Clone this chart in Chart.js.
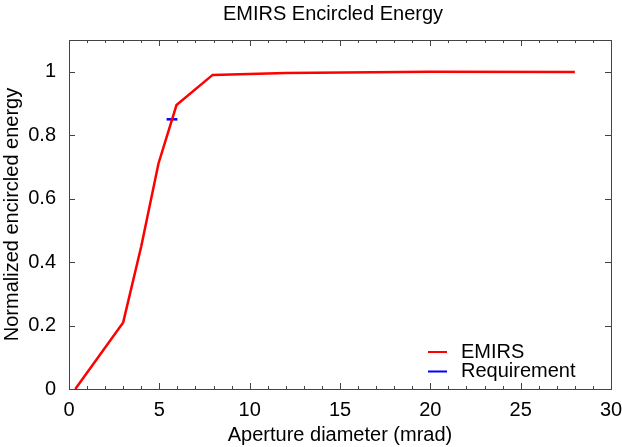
<!DOCTYPE html>
<html>
<head>
<meta charset="utf-8">
<script src="https://cdn.jsdelivr.net/npm/chart.js@4.4.1/dist/chart.umd.min.js"></script>
<style>
  html, body { margin: 0; padding: 0; background: #fff; }
  #wrap { width: 622px; height: 447px; }
</style>
</head>
<body>
<div id="wrap"><canvas id="eeChart" width="622" height="447"></canvas></div>
<script>
  const TITLE = 'EMIRS Encircled Energy';
  const X_TITLE = 'Aperture diameter (mrad)';
  const Y_TITLE = 'Normalized encircled energy';

  // EMIRS encircled energy curve
  const emirsX = [0.35, 3.0, 4.0, 4.95, 5.95, 7.95, 12, 20, 28];
  const emirsY = [0, 0.21, 0.45, 0.71, 0.895, 0.99, 0.996, 1.0, 0.999];

  // requirement marker
  const reqX = [5.4, 6.0];
  const reqY = [0.85, 0.85];

  const xTicks = [0, 5, 10, 15, 20, 25, 30];
  const xMinor = 1;
  const yTicks = [0, 0.2, 0.4, 0.6, 0.8, 1.0];

  const FONT = 'Liberation Sans, Arial, Helvetica, sans-serif';
  const FSIZE = 20;

  const toPts = (xs, ys) => xs.map((x, i) => ({ x, y: ys[i] }));

  // gnuplot style box with inward ticks, title and key
  const frame = {
    id: 'frame',
    afterDraw(chart) {
      const { ctx, chartArea: a, scales } = chart;
      const xs = scales.x, ys = scales.y;
      ctx.save();
      ctx.strokeStyle = '#444';
      ctx.lineWidth = 1;
      ctx.beginPath();
      for (let v = xs.min; v <= xs.max + 1e-9; v += xMinor) {
        const px = Math.round(xs.getPixelForValue(v)) + 0.5;
        const len = xTicks.includes(v) ? 6 : 3;
        ctx.moveTo(px, a.bottom); ctx.lineTo(px, a.bottom - len);
        ctx.moveTo(px, a.top); ctx.lineTo(px, a.top + len);
      }
      yTicks.forEach(v => {
        const py = Math.round(ys.getPixelForValue(v)) + 0.5;
        ctx.moveTo(a.left, py); ctx.lineTo(a.left + 6, py);
        ctx.moveTo(a.right, py); ctx.lineTo(a.right - 6, py);
      });
      ctx.stroke();
      ctx.strokeRect(Math.round(a.left) + 0.5, Math.round(a.top) + 0.5,
        Math.round(a.right - a.left), Math.round(a.bottom - a.top));

      ctx.fillStyle = '#000';
      ctx.font = FSIZE + 'px ' + FONT;
      ctx.textAlign = 'center';
      ctx.textBaseline = 'middle';
      ctx.fillText(TITLE, 333, 14);

      // key, bottom right inside the plot
      ctx.textAlign = 'left';
      const sets = chart.data.datasets;
      sets.forEach((ds, i) => {
        const cy = a.bottom - 17.5 - (sets.length - 1 - i) * 19.5;
        ctx.strokeStyle = ds.borderColor;
        ctx.lineWidth = 2;
        ctx.beginPath();
        ctx.moveTo(a.right - 183, cy);
        ctx.lineTo(a.right - 164, cy);
        ctx.stroke();
        ctx.fillText(ds.label, a.right - 150, cy);
      });
      ctx.restore();
    }
  };

  new Chart(document.getElementById('eeChart'), {
    type: 'scatter',
    data: {
      datasets: [
        { label: 'EMIRS', data: toPts(emirsX, emirsY), showLine: true, borderColor: '#ff0000',
          borderWidth: 2.5, pointRadius: 0, tension: 0 },
        { label: 'Requirement', data: toPts(reqX, reqY), showLine: true, borderColor: '#0000ff',
          borderWidth: 2.5, pointRadius: 0, tension: 0 },
      ],
    },
    options: {
      responsive: false,
      animation: false,
      layout: { padding: { top: 40, right: 11, left: 0, bottom: 0 } },
      plugins: { legend: { display: false }, title: { display: false }, tooltip: { enabled: false } },
      scales: {
        x: {
          type: 'linear', min: 0, max: 30,
          ticks: { stepSize: 5, color: '#000', padding: 9, font: { family: FONT, size: FSIZE }, maxRotation: 0 },
          grid: { display: false, drawTicks: false },
          border: { display: false },
          title: { display: true, text: X_TITLE, color: '#000', padding: 0, font: { family: FONT, size: FSIZE } },
          afterFit: s => { s.height = 58; s.paddingLeft = 0; s.paddingRight = 0; },
        },
        y: {
          type: 'linear', min: 0, max: 1.1,
          afterBuildTicks: s => { s.ticks = yTicks.map(v => ({ value: v })); },
          ticks: { color: '#000', padding: 13, font: { family: FONT, size: FSIZE },
            callback: v => String(Math.round(v * 10) / 10) },
          grid: { display: false, drawTicks: false },
          border: { display: false },
          title: { display: true, text: Y_TITLE, color: '#000', padding: 0, font: { family: FONT, size: FSIZE } },
          afterFit: s => { s.width = 69; s.paddingTop = 0; s.paddingBottom = 0; },
        },
      },
    },
    plugins: [frame],
  });
</script>
</body>
</html>
